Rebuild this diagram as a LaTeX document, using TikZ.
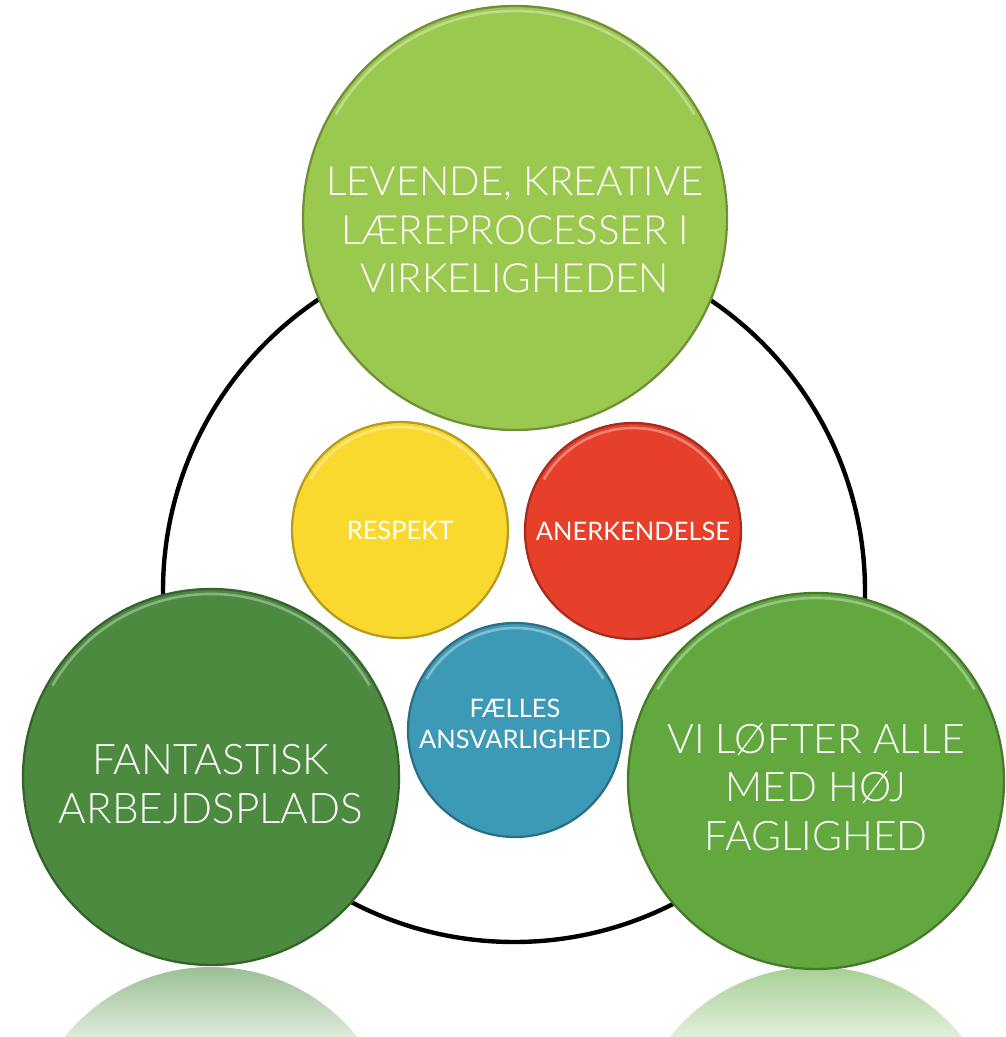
\documentclass[tikz,border=0pt]{standalone}
\usepackage{fontspec}
\setmainfont{Lato}
\newfontfamily\latolight{Lato Light}
\usetikzlibrary{positioning}
\definecolor{toplime}{RGB}{155,200,78}
\definecolor{darkgreen}{RGB}{75,138,63}
\definecolor{midgreen}{RGB}{98,168,63}
\definecolor{sunyellow}{RGB}{250,217,46}
\definecolor{tomato}{RGB}{230,63,42}
\definecolor{seablue}{RGB}{61,154,182}

\begin{document}
\begin{tikzpicture}[x=0.02cm,y=0.02cm,
    ball/.style={circle, fill=#1, draw=#1!72!black, line width=1.3pt, inner sep=0pt},
    bigtext/.style={text=white, align=center, font=\latolight\fontsize{#1}{27.5}\selectfont},
    bigtext/.default=24,
    smalltext/.style={text=white, align=center, font=\fontsize{14.5}{18}\selectfont}]
  \useasboundingbox (0,0) rectangle (1006,1037);
  % mirror images under the two lower balls
  \foreach \cx/\col in {211/darkgreen,816/midgreen}{
    \begin{scope}
      \clip (\cx,-118) circle (188);
      \shade[top color=\col!55!white, bottom color=\col!18!white] (\cx-190,0) rectangle (\cx+190,70);
    \end{scope}
  }
  \node[circle, draw, line width=2.5pt, minimum size=702*0.02cm] (ring) at (514,446) {};
  \node[ball=toplime, minimum size=424*0.02cm] (levende) at (515,819) {};
  \node[ball=darkgreen, minimum size=376*0.02cm] (fantastisk) at (211,260) {};
  \node[ball=midgreen, minimum size=376*0.02cm] (loefter) at (816,256) {};
  \node[ball=sunyellow, minimum size=216*0.02cm] (respekt) at (400,507) {};
  \node[ball=tomato, minimum size=216*0.02cm] (anerkend) at (633,506) {};
  \node[ball=seablue, minimum size=214*0.02cm] (faelles) at (515,307) {};
  % light rim at the top of each ball
  \foreach \n/\r in {levende/212,fantastisk/188,loefter/188,respekt/108,anerkend/108,faelles/107}
    \draw[white, opacity=.35, line width=1.5pt] (\n.center) ++(150:\r-5) arc (150:30:\r-5);
  \node[bigtext=22.9] (levende text) at ([yshift=-0.24cm]levende.center)
    {LEVENDE, KREATIVE\\LÆREPROCESSER I\\VIRKELIGHEDEN};
  \node[bigtext] (fantastisk text) at ([yshift=-0.14cm]fantastisk.center)
    {FANTASTISK\\ARBEJDSPLADS};
  \node[bigtext=23.2] (loefter text) at ([yshift=-0.12cm]loefter.center)
    {VI LØFTER ALLE\\MED HØJ\\FAGLIGHED};
  \node[smalltext] (respekt text) at (respekt.center) {RESPEKT};
  \node[smalltext] (anerkend text) at (anerkend.center) {ANERKENDELSE};
  \node[smalltext] (faelles text) at ([yshift=0.12cm]faelles.center) {FÆLLES\\ANSVARLIGHED};
\end{tikzpicture}
\end{document}
